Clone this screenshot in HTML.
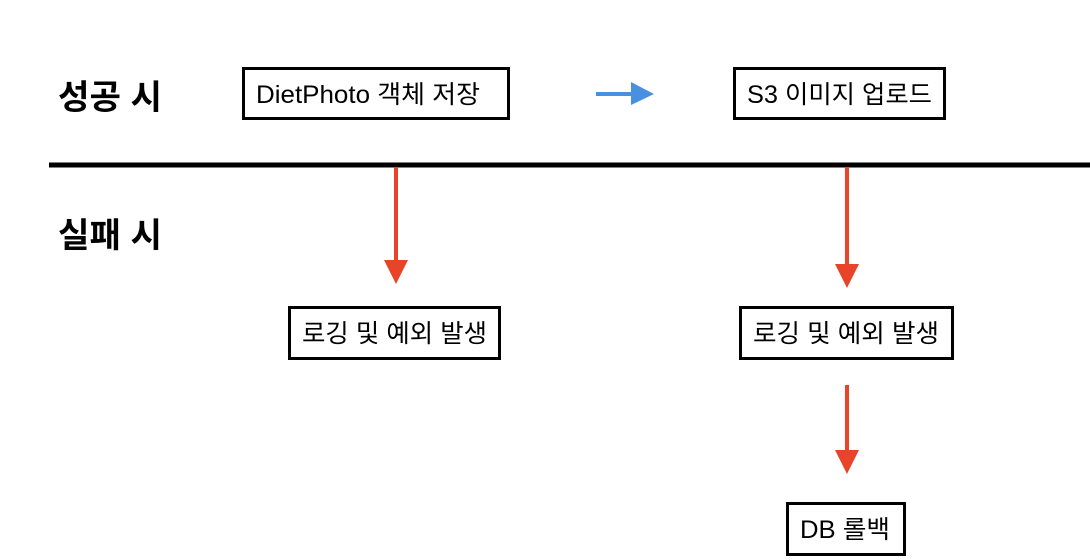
<!DOCTYPE html>
<html><head><meta charset="utf-8"><style>
html,body{margin:0;padding:0;background:#fff;width:1090px;height:560px;overflow:hidden}
svg{display:block}
text{font-family:"Liberation Sans","Noto Sans CJK KR",sans-serif;fill:#000}
</style></head><body>
<svg width="1090" height="560" viewBox="0 0 1090 560">
<text x="58" y="109" font-size="34" font-weight="bold" textLength="104" lengthAdjust="spacingAndGlyphs">성공 시</text>
<text x="58" y="247" font-size="34" font-weight="bold" textLength="104" lengthAdjust="spacingAndGlyphs">실패 시</text>
<rect x="243.5" y="68.5" width="265" height="50" fill="none" stroke="#000" stroke-width="3"/>
<text x="256" y="103" font-size="25" textLength="224" lengthAdjust="spacingAndGlyphs">DietPhoto 객체 저장</text>
<line x1="596" y1="94" x2="634" y2="94" stroke="#4a90e2" stroke-width="4"/>
<polygon points="631,82 654,94 631,105" fill="#4a90e2"/>
<rect x="734.5" y="68.5" width="210" height="50" fill="none" stroke="#000" stroke-width="3"/>
<text x="747" y="103" font-size="25" textLength="185" lengthAdjust="spacingAndGlyphs">S3 이미지 업로드</text>
<line x1="49" y1="165" x2="1090" y2="165" stroke="#000" stroke-width="5"/>
<line x1="396" y1="167" x2="396" y2="262" stroke="#e8442a" stroke-width="4"/>
<polygon points="384,260 408,260 396,284" fill="#e8442a"/>
<line x1="847" y1="167" x2="847" y2="266" stroke="#e8442a" stroke-width="4"/>
<polygon points="835,264 859,264 847,288" fill="#e8442a"/>
<rect x="289.5" y="307.5" width="210" height="51" fill="none" stroke="#000" stroke-width="3"/>
<text x="302" y="342" font-size="25" textLength="185" lengthAdjust="spacingAndGlyphs">로깅 및 예외 발생</text>
<rect x="740.5" y="307.5" width="212" height="51" fill="none" stroke="#000" stroke-width="3"/>
<text x="753" y="342" font-size="25" textLength="186" lengthAdjust="spacingAndGlyphs">로깅 및 예외 발생</text>
<line x1="847" y1="385" x2="847" y2="452" stroke="#e8442a" stroke-width="4"/>
<polygon points="835,450 859,450 847,474" fill="#e8442a"/>
<rect x="787.5" y="503.5" width="117" height="51" fill="none" stroke="#000" stroke-width="3"/>
<text x="800" y="538" font-size="25" textLength="90" lengthAdjust="spacingAndGlyphs">DB 롤백</text>
</svg>
</body></html>
